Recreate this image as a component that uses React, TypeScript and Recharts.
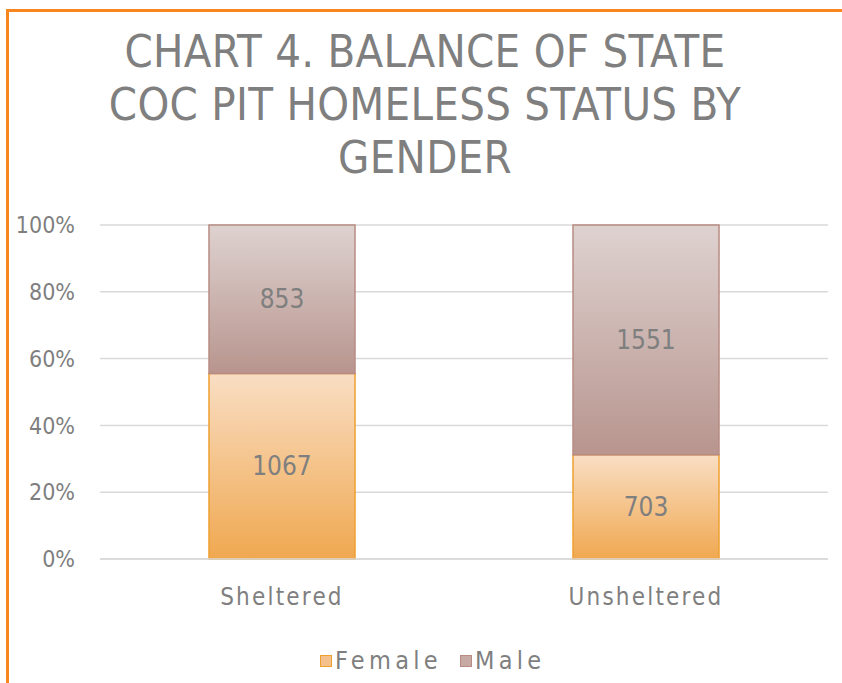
import React from "react";
import {
  BarChart,
  Bar,
  XAxis,
  YAxis,
  CartesianGrid,
  LabelList,
} from "recharts";

const categories = ["Sheltered", "Unsheltered"];
const femaleValues = [1067, 703];
const maleValues = [853, 1551];
const yTicks = [0, 0.2, 0.4, 0.6, 0.8, 1];
const titleLines = ["CHART 4. BALANCE OF STATE", "COC PIT HOMELESS STATUS BY", "GENDER"];
const seriesNames = ["Female", "Male"];

const data = categories.map((c, i) => ({
  name: c,
  female: femaleValues[i],
  male: maleValues[i],
}));

const FONT = "'DejaVu Sans Condensed', 'DejaVu Sans', sans-serif";
const GRAY = "#7f7f7f";

const legendColors: Record<string, { fill: string; stroke: string }> = {
  Female: { fill: "#f4c08c", stroke: "#f0a030" },
  Male: { fill: "#c8aaa4", stroke: "#b88c84" },
};

const XTick = (props: any) => {
  const { x, y, payload } = props;
  return (
    <text
      x={x}
      y={y + 38}
      textAnchor="middle"
      dominantBaseline="central"
      fill={GRAY}
      fontSize={24}
      fontFamily={FONT}
      letterSpacing={2.2}
    >
      {payload.value}
    </text>
  );
};

export default function App() {
  return (
    <div
      style={{
        position: "absolute",
        left: 0,
        top: 0,
        width: 842,
        height: 683,
        overflow: "hidden",
        background: "#ffffff",
      }}
    >
      <div
        style={{
          position: "absolute",
          left: 6,
          top: 9,
          width: 1000,
          height: 1000,
          borderTop: "3px solid #f7861f",
          borderLeft: "3px solid #f7861f",
        }}
      />
      <div
        style={{
          position: "absolute",
          left: 0,
          top: 25,
          width: 850,
          textAlign: "center",
          fontFamily: FONT,
          fontSize: 45,
          lineHeight: "53px",
          letterSpacing: 0.3,
          color: GRAY,
        }}
      >
        {titleLines.map((l) => (
          <div key={l}>{l}</div>
        ))}
      </div>
      <div style={{ position: "absolute", left: 0, top: 0 }}>
        <BarChart
          width={842}
          height={683}
          data={data}
          stackOffset="expand"
          margin={{ top: 225, right: 14, bottom: 94, left: 0 }}
        >
          <defs>
            <linearGradient id="gFemale" x1="0" y1="0" x2="0" y2="1">
              <stop offset="0%" stopColor="#f9dec4" />
              <stop offset="100%" stopColor="#f0a850" />
            </linearGradient>
            <linearGradient id="gMale" x1="0" y1="0" x2="0" y2="1">
              <stop offset="0%" stopColor="#ded2d0" />
              <stop offset="100%" stopColor="#b8958e" />
            </linearGradient>
          </defs>
          <CartesianGrid vertical={false} stroke="#d9d9d9" strokeWidth={1.5} />
          <XAxis
            dataKey="name"
            height={30}
            axisLine={{ stroke: "#d9d9d9", strokeWidth: 1.5 }}
            tickLine={false}
            tickSize={0}
            tickMargin={0}
            tick={<XTick />}
            interval={0}
          />
          <YAxis
            width={100}
            domain={[0, 1]}
            ticks={yTicks}
            tickFormatter={(v: number) => `${Math.round(v * 100)}%`}
            axisLine={false}
            tickLine={false}
            tickSize={0}
            tickMargin={25}
            tick={{ fill: GRAY, fontSize: 23, fontFamily: FONT }}
          />
          <Bar
            dataKey="female"
            name="Female"
            stackId="a"
            barSize={146}
            fill="url(#gFemale)"
            stroke="#f0a030"
            strokeWidth={1.5}
            isAnimationActive={false}
          >
            <LabelList
              dataKey="female"
              position="center"
              fill={GRAY}
              fontSize={26}
              fontFamily={FONT}
            />
          </Bar>
          <Bar
            dataKey="male"
            name="Male"
            stackId="a"
            barSize={146}
            fill="url(#gMale)"
            stroke="#b88c84"
            strokeWidth={1.5}
            isAnimationActive={false}
          >
            <LabelList
              dataKey="male"
              position="center"
              fill={GRAY}
              fontSize={26}
              fontFamily={FONT}
            />
          </Bar>
        </BarChart>
      </div>
      <div
        style={{
          position: "absolute",
          left: 320,
          top: 646,
          display: "flex",
          alignItems: "center",
          fontFamily: FONT,
          fontSize: 25,
          color: GRAY,
          letterSpacing: 4.3,
        }}
      >
        {seriesNames.map((n) => (
          <div key={n} style={{ display: "flex", alignItems: "center", marginRight: 18 }}>
            <span
              style={{
                display: "inline-block",
                width: 10,
                height: 10,
                background: legendColors[n].fill,
                border: `1px solid ${legendColors[n].stroke}`,
                marginRight: 3,
              }}
            />
            <span>{n}</span>
          </div>
        ))}
      </div>
    </div>
  );
}
